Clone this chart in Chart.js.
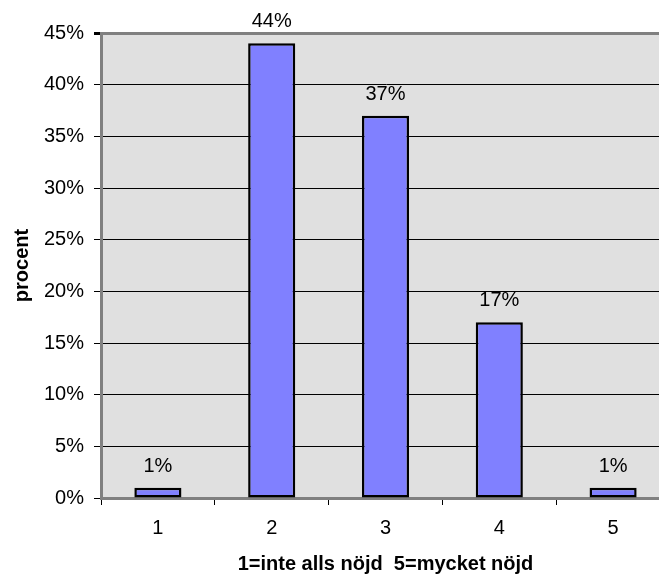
<!DOCTYPE html>
<html>
<head>
<meta charset="utf-8">
<script src="https://cdn.jsdelivr.net/npm/chart.js@4/dist/chart.umd.min.js"></script>
<style>
  html, body { margin: 0; padding: 0; background: #ffffff; overflow: hidden; }
  #wrap { width: 670px; height: 574px; }
</style>
</head>
<body>
<div id="wrap"><canvas id="c" width="670" height="574"></canvas></div>
<script>
// Satisfaction scale, 1 = not at all satisfied ... 5 = very satisfied
const categories = ['1', '2', '3', '4', '5'];
const shares = [1, 44, 37, 17, 1];          // percent of respondents
const yTicks = [0, 5, 10, 15, 20, 25, 30, 35, 40, 45];

const FONT = "'Liberation Sans', Arial, sans-serif";

// Grey plot background
const plotBackground = {
  id: 'plotBackground',
  beforeDraw(chart) {
    const { ctx, chartArea: a } = chart;
    ctx.save();
    ctx.fillStyle = '#e0e0e0';
    ctx.fillRect(a.left, a.top, a.right - a.left, a.bottom - a.top);
    ctx.restore();
  }
};

// Percentage labels above each bar
const barLabels = {
  id: 'barLabels',
  afterDatasetsDraw(chart) {
    const { ctx } = chart;
    const meta = chart.getDatasetMeta(0);
    ctx.save();
    ctx.font = '20px ' + FONT;
    ctx.fillStyle = '#000000';
    ctx.textAlign = 'center';
    ctx.textBaseline = 'alphabetic';
    meta.data.forEach((bar, i) => {
      ctx.fillText(shares[i] + '%', bar.x, bar.y - 16);
    });
    ctx.restore();
  }
};

new Chart(document.getElementById('c'), {
  type: 'bar',
  data: {
    labels: categories,
    datasets: [{
      data: shares,
      backgroundColor: '#8080ff',
      borderColor: '#000000',
      borderWidth: 2.5,
      borderSkipped: false,
      barPercentage: 0.414,
      categoryPercentage: 1.0
    }]
  },
  options: {
    responsive: false,
    animation: false,
    layout: { padding: { top: 33, right: 0, bottom: 0, left: 0 } },
    plugins: {
      legend: { display: false },
      tooltip: { enabled: false }
    },
    scales: {
      x: {
        offset: true,
        grid: {
          offset: true,
          drawOnChartArea: false,
          drawTicks: true,
          tickLength: 7,
          tickColor: '#000000',
          tickWidth: 1
        },
        border: { display: true, color: '#808080', width: 3 },
        ticks: {
          color: '#000000',
          font: { family: FONT, size: 20 },
          padding: 11
        },
        title: {
          display: true,
          text: '1=inte alls nöjd  5=mycket nöjd',
          color: '#000000',
          font: { family: FONT, size: 20, weight: 'bold' },
          padding: { top: 0, bottom: -2 }
        },
        afterFit(scale) { scale.height = 76; }
      },
      y: {
        min: 0,
        max: 45,
        afterBuildTicks(scale) {
          scale.ticks = yTicks.map(v => ({ value: v }));
        },
        grid: {
          drawTicks: true,
          tickLength: 7,
          tickColor: '#000000',
          color: ctx => (ctx.tick && ctx.tick.value === 45) ? '#808080' : '#000000',
          lineWidth: ctx => (ctx.tick && ctx.tick.value === 45) ? 3 : 1
        },
        border: { display: true, color: '#808080', width: 3 },
        ticks: {
          color: '#000000',
          font: { family: FONT, size: 20 },
          padding: 10,
          callback: v => v + '%'
        },
        title: {
          display: true,
          text: 'procent',
          color: '#000000',
          font: { family: FONT, size: 20, weight: 'bold' },
          padding: { top: 10, bottom: 0 }
        },
        afterFit(scale) { scale.width = 101; }
      }
    }
  },
  plugins: [plotBackground, barLabels]
});
</script>
</body>
</html>
